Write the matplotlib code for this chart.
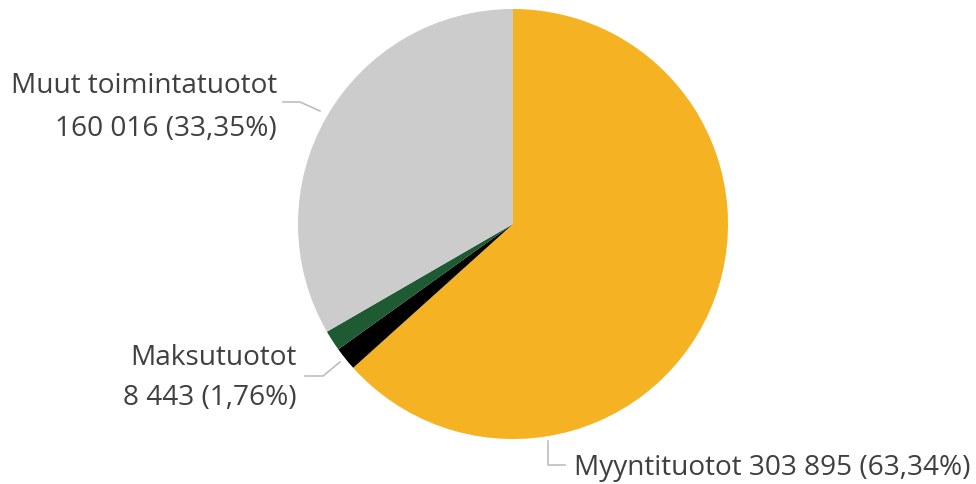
import matplotlib
matplotlib.use("Agg")
import matplotlib.pyplot as plt
from matplotlib.lines import Line2D
import numpy as np

# slices clockwise from 12 o'clock
names = ["Myyntituotot", "Maksutuotot", "Muu", "Muut toimintatuotot"]
values = [303895, 8443, 7436, 160016]
percent_labels = ["63,34%", "1,76%", "", "33,35%"]
value_labels = ["303 895", "8 443", "", "160 016"]
colors = ["#F5B223", "#000000", "#1E5A32", "#CCCCCC"]

W, H = 976, 485
fig = plt.figure(figsize=(W / 100, H / 100), dpi=100)
plt.rcParams["font.family"] = ["Open Sans", "DejaVu Sans"]

cx, cy, r = 513, 225, 215
ax = fig.add_axes([(cx - r) / W, (H - cy - r) / H, 2 * r / W, 2 * r / H])
ax.pie(values, colors=colors, startangle=90, counterclock=False,
       wedgeprops=dict(linewidth=0))
ax.set_xlim(-1, 1)
ax.set_ylim(-1, 1)
ax.set_aspect("equal")
ax.axis("off")


def fx(x):
    return x / W


def fy(y):
    return 1 - y / H


def leader(pts):
    xs = [fx(p[0]) for p in pts]
    ys = [fy(p[1]) for p in pts]
    fig.add_artist(Line2D(xs, ys, transform=fig.transFigure, color="#BDBDBD", lw=1.2))


txt = dict(fontsize=20.2, color="#404040")

# Myyntituotot
leader([(548, 442), (548, 466), (565, 466)])
fig.text(fx(574), fy(468), f"{names[0]} {value_labels[0]} ({percent_labels[0]})",
         ha="left", va="center", **txt)

# Maksutuotot
leader([(340, 363), (323, 377), (305, 377)])
fig.text(fx(297), fy(358), names[1], ha="right", va="center", **txt)
fig.text(fx(297), fy(398), f"{value_labels[1]} ({percent_labels[1]})", ha="right", va="center", **txt)

# Muut toimintatuotot
leader([(320, 112), (300, 103), (283, 103)])
fig.text(fx(277), fy(86), names[3], ha="right", va="center", **txt)
fig.text(fx(277), fy(129), f"{value_labels[3]} ({percent_labels[3]})", ha="right", va="center", **txt)

fig.savefig("out.png", dpi=100)
